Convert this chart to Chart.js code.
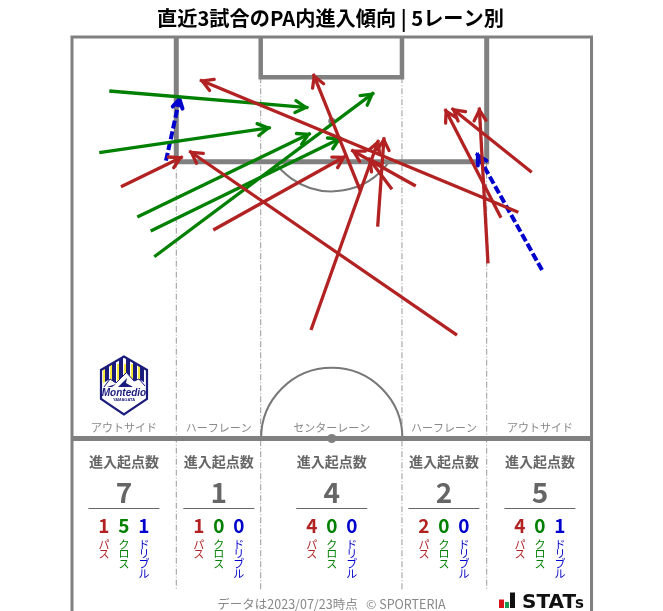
<!DOCTYPE html>
<html><head><meta charset="utf-8">
<style>html,body{margin:0;padding:0;background:#fff}canvas{display:block}</style>
<script src="https://cdn.jsdelivr.net/npm/chart.js@4/dist/chart.umd.min.js"></script>
</head><body><canvas id="c" width="663" height="611"></canvas>
<script>
// Arrows in pitch metres: [fromX, fromY, toX, toY], y measured from the goal line
const passArrows = [
  [6.41,19.59,14.49,15.67],[18.49,25.26,35.86,15.58],[50.39,39.01,15.35,14.92],
  [31.28,38.35,40.12,13.48],[37.79,20.25,31.58,4.84],[41.88,19.93,38.81,15.84],
  [44.99,19.50,36.56,14.79],[58.42,22.95,16.75,5.63],[60.17,17.71,49.70,9.33],
  [56.15,23.65,48.82,9.42],[54.45,29.62,53.31,9.25],[40.01,24.83,40.84,13.13]
];
const crossArrows = [
  [4.88,7.07,30.93,9.25],[3.57,15.14,26.01,11.87],[8.55,23.56,31.24,12.60],
  [10.30,25.39,35.30,13.18],[10.77,28.76,39.53,7.29]
];
const dribbleArrows = [
  [12.30,16.19,14.14,7.81],[61.52,30.50,52.97,15.22]
];
const laneNames   = ['アウトサイド','ハーフレーン','センターレーン','ハーフレーン','アウトサイド'];
const laneTotals  = [7,1,4,2,5];
const lanePass    = [1,1,4,2,4];
const laneCross   = [5,0,0,0,0];
const laneDribble = [1,0,0,0,1];
const laneCentres = [6.8,19.22,34,48.68,61.25];
const titleText = '直近3試合のPA内進入傾向 | 5レーン別';
const footerText = 'データは2023/07/23時点   © SPORTERIA';

const RED='#b22222', GREEN='#008000', BLUE='#0000cd', GREY='#808080', TXT='#666666';
const JP='"Noto Sans CJK JP"';
const PX=7.64;

function ds(a,color,dash,w){return {
  data:[{x:a[0],y:a[1]},{x:a[2],y:a[3]}],
  borderColor:color,borderWidth:w,borderDash:dash,borderCapStyle:'butt',
  pointRadius:0,pointHoverRadius:0,showLine:true,fill:false,tension:0,clip:false,
  headLen:dash.length?10:12
};}
const datasets=[
  ...passArrows.map(a=>ds(a,RED,[],3.3)),
  ...crossArrows.map(a=>ds(a,GREEN,[],3.3)),
  ...dribbleArrows.map(a=>ds(a,BLUE,[8,3],4))
];

const pitch={id:'pitch',
  beforeDatasetsDraw(ch){
    const c=ch.ctx,X=v=>ch.scales.x.getPixelForValue(v),Y=v=>ch.scales.y.getPixelForValue(v);
    c.save();
    c.fillStyle='#fff';c.fillRect(0,0,663,611);
    const line=(x1,y1,x2,y2,w,col,dash)=>{c.beginPath();c.setLineDash(dash||[]);c.strokeStyle=col||GREY;c.lineWidth=w;c.moveTo(x1,y1);c.lineTo(x2,y2);c.stroke();c.setLineDash([]);};
    // lane dividers
    const bottom=Y(72.4);
    const dash=[6,2,1,2];
    line(X(13.65),Y(16.32),X(13.65),bottom,1,'#999',dash);
    line(X(54.28),Y(16.32),X(54.28),bottom,1,'#999',dash);
    line(X(24.7),Y(5.27),X(24.7),bottom,1,'#999',dash);
    line(X(43.19),Y(5.27),X(43.19),bottom,1,'#999',dash);
    // arcs
    c.strokeStyle='#777';c.lineWidth=2;
    c.beginPath();c.arc(X(34),Y(52.55),9.25*PX,Math.PI,2*Math.PI);c.stroke();
    const a0=Math.asin((16.32-11)/9.2);
    c.beginPath();c.arc(X(34),Y(11),9.2*PX,a0,Math.PI-a0);c.stroke();
    c.fillStyle=GREY;
    c.beginPath();c.arc(X(34),Y(11),3.5,0,7);c.fill();
    // penalty box + goal area
    c.strokeStyle=GREY;c.lineJoin='miter';
    c.lineWidth=5;
    c.beginPath();c.moveTo(X(13.65),Y(0));c.lineTo(X(13.65),Y(16.32));c.lineTo(X(54.28),Y(16.32));c.lineTo(X(54.28),Y(0));c.stroke();
    c.lineWidth=4.5;
    c.beginPath();c.moveTo(X(24.7),Y(0));c.lineTo(X(24.7),Y(5.27));c.lineTo(X(43.19),Y(5.27));c.lineTo(X(43.19),Y(0));c.stroke();
    // outline and halfway
    c.lineWidth=3;
    c.beginPath();c.moveTo(X(0),611);c.lineTo(X(0),Y(0));c.lineTo(X(68),Y(0));c.lineTo(X(68),611);c.stroke();
    line(X(0),Y(52.55),X(68),Y(52.55),5);
    c.fillStyle=GREY;c.beginPath();c.arc(X(34),Y(52.55),4.5,0,7);c.fill();
    // texts
    c.textAlign='center';c.textBaseline='middle';
    c.fillStyle='#000';c.font='bold 20.2px '+JP;c.fillText(titleText,330.5,18);
    c.font='12.5px '+JP;c.fillStyle='#888';c.fillText(footerText,331.5,604);
    laneNames.forEach((n,i)=>{
      const x=X(laneCentres[i]);
      c.textBaseline='middle';
      c.font='11px '+JP;c.fillStyle='#888';c.fillText(n,x,428);
      c.font='bold 14px '+JP;c.fillStyle=TXT;c.fillText('進入起点数',x,462);
      c.font='bold 28px '+JP;c.fillText(String(laneTotals[i]),x,492);
      line(x-35.5,508.5,x+35.5,508.5,1,TXT);
      [[lanePass,RED,'パス'],[laneCross,GREEN,'クロス'],[laneDribble,BLUE,'ドリブル']].forEach((s,k)=>{
        const sx=x+(k-1)*20;
        c.fillStyle=s[1];c.font='bold 19px '+JP;c.fillText(String(s[0][i]),sx,526);
        c.font='11px '+JP;
        [...s[2]].forEach((ch2,j)=>c.fillText(ch2,sx,544.5+j*9.8));
      });
    });
    drawLogo(c);drawStats(c);
    c.restore();
  },
  afterDatasetDraw(ch,args){
    const m=args.meta,d=ch.data.datasets[args.index];
    const p0=m.data[0],p1=m.data[1],c=ch.ctx;
    const ang=Math.atan2(p1.y-p0.y,p1.x-p0.x),L=d.headLen,A=0.52;
    // the mitred tip overshoots the line end, so pull it back
    const tx=p1.x-2.5*Math.cos(ang),ty=p1.y-2.5*Math.sin(ang);
    c.save();c.setLineDash([]);c.strokeStyle=d.borderColor;c.lineWidth=d.borderWidth;
    c.lineCap='round';c.lineJoin='miter';
    c.beginPath();
    c.moveTo(tx-L*Math.cos(ang-A),ty-L*Math.sin(ang-A));
    c.lineTo(tx,ty);
    c.lineTo(tx-L*Math.cos(ang+A),ty-L*Math.sin(ang+A));
    c.stroke();c.restore();
  }
};

function drawLogo(c){
  const NAVY='#1c1c7c';
  c.save();
  const hex=()=>{c.beginPath();c.moveTo(123.9,356.5);c.lineTo(147,370);c.lineTo(147,399);c.lineTo(123.9,414.5);c.lineTo(101,399);c.lineTo(101,370);c.closePath();};
  hex();c.fillStyle='#fff';c.fill();
  c.save();hex();c.clip();
  const sx=[105,112,119,126,133,140];
  sx.forEach((x,i)=>{c.fillStyle=NAVY;c.fillRect(x,358,4,28);c.fillStyle='#f7ea3c';c.fillRect(x-2,364,2,22);});
  c.fillStyle='#fff';
  c.beginPath();c.moveTo(100,389);c.lineTo(100,385);c.lineTo(110,379);c.lineTo(116,383);c.lineTo(126.5,372.5);c.lineTo(134,381);c.lineTo(139,379);c.lineTo(148,385);c.lineTo(148,389);c.closePath();c.fill();
  c.strokeStyle=NAVY;c.lineWidth=1;
  c.beginPath();c.moveTo(104,387);c.lineTo(110,379);c.lineTo(116,383);c.lineTo(126.5,372.5);c.lineTo(134,381);c.lineTo(139,379);c.lineTo(145,386);c.stroke();
  c.fillStyle=NAVY;
  c.beginPath();c.moveTo(107,387);c.lineTo(116,384);c.lineTo(112,387);c.closePath();c.fill();
  c.beginPath();c.moveTo(118,387);c.lineTo(127,378);c.lineTo(126,383);c.lineTo(133,387);c.closePath();c.fill();
  c.restore();
  hex();c.strokeStyle=NAVY;c.lineWidth=2.2;c.lineJoin='miter';c.stroke();
  c.fillStyle=NAVY;c.textAlign='center';c.textBaseline='middle';
  c.font='italic bold 10px "Liberation Sans"';c.fillText('Montedio',124,393);
  c.font='bold 4px "Liberation Sans"';c.fillText('YAMAGATA',124,399.5);
  c.restore();
}
function drawStats(c){
  c.save();
  c.fillStyle='#d7141a';c.fillRect(499,599.5,5,8.5);
  c.fillStyle='#1a9a50';c.fillRect(505,602,4,6);
  c.fillStyle='#111';c.fillRect(510,592.5,5,15.5);
  c.textAlign='left';c.textBaseline='alphabetic';
  c.font='bold 20px "DejaVu Sans"';c.fillText('STAT',522,607.5);
  c.font='bold 15px "DejaVu Sans"';c.fillText('s',575,607.5);
  c.restore();
}

new Chart(document.getElementById('c'),{
  type:'scatter',
  data:{datasets},
  options:{
    responsive:false,animation:false,events:[],
    layout:{padding:0},
    plugins:{legend:{display:false},tooltip:{enabled:false},title:{display:false}},
    scales:{
      x:{type:'linear',display:false,min:-9.424,max:77.356},
      y:{type:'linear',display:false,reverse:true,min:-4.843,max:75.131}
    }
  },
  plugins:[pitch]
});
</script></body></html>
